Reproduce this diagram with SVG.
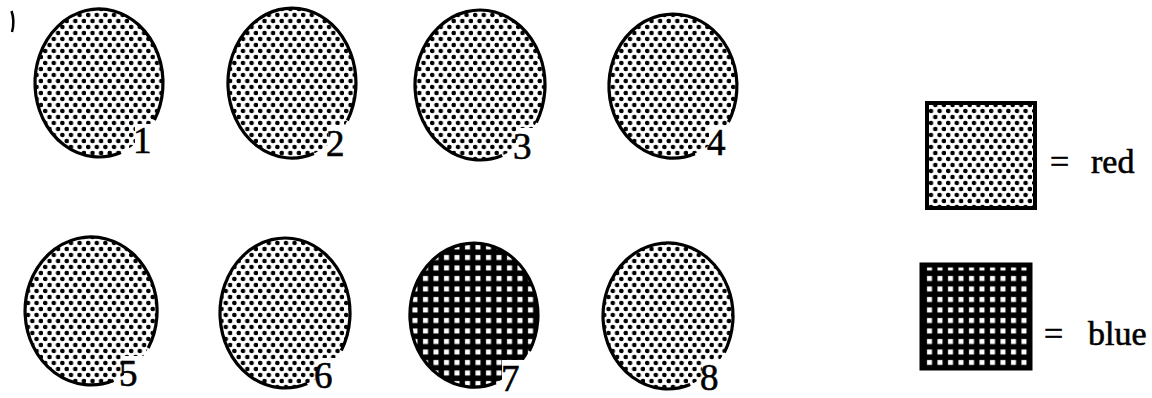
<svg xmlns="http://www.w3.org/2000/svg" width="1152" height="398" viewBox="0 0 1152 398">
<defs>
<pattern id="dots" width="8.6" height="12" patternUnits="userSpaceOnUse">
<circle cx="2.2" cy="3" r="2.3" fill="#000"/>
<circle cx="6.5" cy="9" r="2.3" fill="#000"/>
</pattern>
<pattern id="grid" width="10.5" height="10.5" patternUnits="userSpaceOnUse">
<rect width="10.5" height="10.5" fill="#000"/>
<rect x="3" y="3" width="5" height="5" fill="#fff"/>
</pattern>
</defs>
<style>
.red{fill:url(#dots)}
.blue{fill:url(#grid)}
.out{fill:none;stroke:#000;stroke-width:3.2}
.notch{fill:#fff}
text{font-family:'Liberation Serif','Times New Roman',Times,serif;fill:#000;stroke:#000;stroke-width:0.6}
.num{font-size:37px}
.lab{font-size:34px}
</style>
<rect width="1152" height="398" fill="#fff"/>
<path d="M11.5 11 Q15 21 12 32" fill="none" stroke="#000" stroke-width="2.5"/>

<g id="node1">
<ellipse class="red" cx="99" cy="83" rx="64" ry="74"/>
<rect class="notch" x="135" y="124" width="40" height="40"/>
<path class="out" d="M120.9 152.5 A64 74 0 1 1 154.4 120"/>
<text class="num" x="133" y="153">1</text>
</g>
<g id="node2">
<ellipse class="red" cx="292" cy="83" rx="64" ry="75"/>
<rect class="notch" x="328" y="125" width="40" height="40"/>
<path class="out" d="M313.9 153.5 A64 75 0 1 1 347.4 120.5"/>
<text class="num" x="326" y="156">2</text>
</g>
<g id="node3">
<ellipse class="red" cx="480" cy="85" rx="65" ry="75"/>
<rect class="notch" x="516" y="128" width="40" height="40"/>
<path class="out" d="M502.2 155.5 A65 75 0 1 1 536.3 122.5"/>
<text class="num" x="513" y="159">3</text>
</g>
<g id="node4">
<ellipse class="red" cx="673" cy="86" rx="64" ry="72"/>
<rect class="notch" x="709" y="126" width="40" height="40"/>
<path class="out" d="M694.9 153.7 A64 72 0 1 1 728.4 122"/>
<text class="num" x="707" y="155">4</text>
</g>
<g id="node5">
<ellipse class="red" cx="91" cy="311" rx="66" ry="74"/>
<rect class="notch" x="124" y="356" width="40" height="40"/>
<path class="out" d="M113.6 380.5 A66 74 0 1 1 148.2 348"/>
<text class="num" x="119" y="386">5</text>
</g>
<g id="node6">
<ellipse class="red" cx="285" cy="313" rx="65" ry="75"/>
<rect class="notch" x="318" y="358" width="40" height="40"/>
<path class="out" d="M307.2 383.5 A65 75 0 1 1 341.3 350.5"/>
<text class="num" x="314" y="388">6</text>
</g>
<g id="node7">
<ellipse class="blue" cx="474" cy="315" rx="64" ry="72"/>
<rect class="notch" x="502" y="360" width="45" height="38"/>
<path class="out" d="M495.9 382.7 A64 72 0 1 1 529.4 351" stroke-width="4"/>
<text class="num" x="501" y="391">7</text>
</g>
<g id="node8">
<ellipse class="red" cx="668" cy="316" rx="65" ry="73"/>
<rect class="notch" x="702" y="360" width="40" height="38"/>
<path class="out" d="M690.2 384.6 A65 73 0 1 1 724.3 352.5"/>
<text class="num" x="700" y="390">8</text>
</g>

<g id="legend-red">
<rect class="red" x="927" y="103" width="108" height="105"/>
<rect x="927" y="103" width="108" height="105" fill="none" stroke="#000" stroke-width="4"/>
<text class="lab" x="1050" y="173">=</text>
<text class="lab" x="1091" y="173">red</text>
</g>
<g id="legend-blue">
<rect class="blue" x="922" y="265" width="108" height="103"/>
<rect x="922" y="265" width="108" height="103" fill="none" stroke="#000" stroke-width="5"/>
<text class="lab" x="1044" y="345">=</text>
<text class="lab" x="1088" y="345">blue</text>
</g>
</svg>
